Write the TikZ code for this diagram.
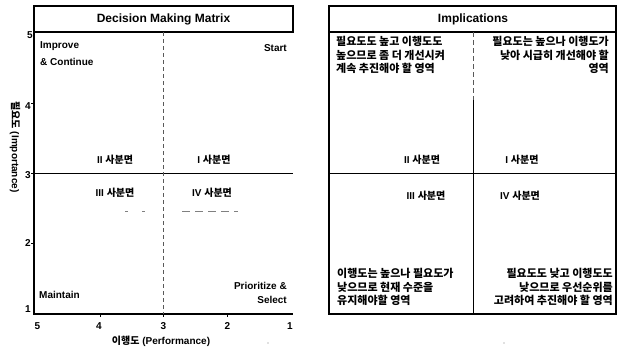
\documentclass[tikz,border=0pt]{standalone}
\usepackage{fontspec}
\setmainfont{Liberation Sans}
\newfontfamily\kr{Noto Sans CJK KR}
\begin{document}
\begin{tikzpicture}[x=1pt,y=-1pt,
  frame/.style={line width=1.1pt, black},
  thin/.style={line width=0.8pt, black},
  ttl/.style={font=\bfseries\fontsize{12}{14}\selectfont, inner sep=0},
  lbl/.style={font=\bfseries\fontsize{10}{17}\selectfont, inner sep=0},
  num/.style={font=\bfseries\fontsize{10}{12}\selectfont, inner sep=0},
  quad/.style={font=\bfseries\fontsize{10}{12}\selectfont, inner sep=0},
  krtxt/.style={font=\kr\bfseries\fontsize{11}{13.6}\selectfont, inner sep=0},
  axlbl/.style={font=\bfseries\fontsize{10}{12}\selectfont, inner sep=0}]
\useasboundingbox (0,0) rectangle (619,349);
\fill[white] (0,0) rectangle (619,349);
% ---------- left panel ----------
\draw[frame] (34,6) rectangle (293,32);
\draw[frame] (34,32) -- (34,314) -- (293,314);
\draw[frame] (34,173.5) -- (293,173.5);
\draw[gray!70!black, line width=0.7pt, dashed, dash pattern=on 4pt off 3pt] (163,32) -- (163,316);
% ticks
\foreach \yy in {103,173.5,243}{\draw[thin] (31,\yy) -- (34,\yy);}
\foreach \xx in {100,163,227}{\draw[thin] (\xx,314) -- (\xx,317);}
% scan fragments
\draw[gray, line width=0.6pt, dash pattern=on 3pt off 14pt] (125,211) -- (147,211);
\draw[gray, line width=0.6pt, dash pattern=on 8pt off 5pt] (182,211) -- (238,211);
\fill[gray] (268,343) circle (0.6);
\fill[gray] (504,343) circle (0.6);
% titles / labels
\node[ttl] (t1) at (163.5,19.5) {Decision Making Matrix};
\node[lbl, anchor=north west, align=left] (imp) at (40,41) {Improve\\\& Continue};
\node[lbl, anchor=north east] (start) at (287,44) {Start};
\node[lbl, anchor=north east, align=right, font=\bfseries\fontsize{10}{14}\selectfont] (prio) at (287,282) {Prioritize \&\\Select};
\node[lbl, anchor=north west] (maint) at (39,291) {Maintain};
\node[quad] (q2l) at (115,160) {II {\kr\bfseries 사분면}};
\node[quad] (q1l) at (214,160) {I {\kr\bfseries 사분면}};
\node[quad] (q3l) at (115,193) {III {\kr\bfseries 사분면}};
\node[quad] (q4l) at (212,193) {IV {\kr\bfseries 사분면}};
% tick numbers
\node[num] (y5) at (30,35) {5};
\node[num] (y4) at (28,106) {4};
\node[num] (y3) at (28,175) {3};
\node[num] (y2) at (28,243) {2};
\node[num] (y1) at (28,309) {1};
\node[num] (x5) at (37.5,326) {5};
\node[num] (x4) at (99,326) {4};
\node[num] (x3) at (163.5,326) {3};
\node[num] (x2) at (227.5,326) {2};
\node[num] (x1) at (290,326) {1};
\node[axlbl] (xl) at (161,341) {{\kr\bfseries 이행도} (Performance)};
\node[axlbl, rotate=-90] (yl) at (15,147) {{\kr\bfseries 필요도} (Importance)};
% ---------- right panel ----------
\draw[frame] (329,6) rectangle (616,314);
\draw[frame] (329,32) -- (616,32);
\draw[frame] (329,173.5) -- (616,173.5);
\draw[gray!70!black, line width=0.7pt, dashed, dash pattern=on 5pt off 3pt] (473,32) -- (473,100);
\draw[thin] (473,100) -- (473,314);
\node[ttl] (t2) at (473,19.5) {Implications};
\node[krtxt, anchor=north west, align=left] (k1) at (336,36)
  {필요도도 높고 이행도도\\높으므로 좀 더 개선시켜\\계속 추진해야 할 영역};
\node[krtxt, anchor=north east, align=right] (k2) at (609,36)
  {필요도는 높으나 이행도가\\낮아 시급히 개선해야 할\\영역};
\node[krtxt, anchor=north west, align=left] (k3) at (337,268)
  {이행도는 높으나 필요도가\\낮으므로 현재 수준을\\유지해야할 영역};
\node[krtxt, anchor=north east, align=right] (k4) at (613,268)
  {필요도도 낮고 이행도도\\낮으므로 우선순위를\\고려하여 추진해야 할 영역};
\node[quad] (q2r) at (422,160) {II {\kr\bfseries 사분면}};
\node[quad] (q1r) at (522,160) {I {\kr\bfseries 사분면}};
\node[quad] (q3r) at (426,196) {III {\kr\bfseries 사분면}};
\node[quad] (q4r) at (520,196) {IV {\kr\bfseries 사분면}};
\end{tikzpicture}
\end{document}
